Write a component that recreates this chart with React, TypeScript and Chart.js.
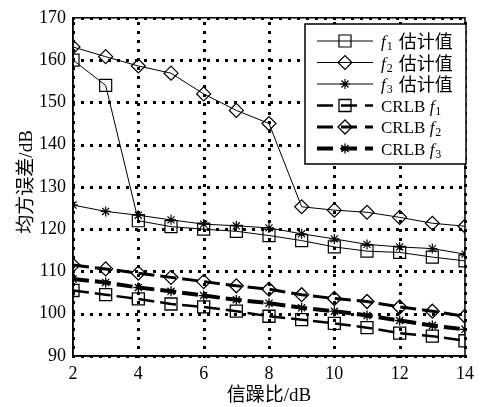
import { useEffect, useRef } from "react";
import { Chart, registerables } from "chart.js";
Chart.register(...registerables);

const snr = [2, 3, 4, 5, 6, 7, 8, 9, 10, 11, 12, 13, 14];
const f1Est = [160, 154, 122, 120.6, 120, 119.5, 118.5, 117.3, 115.8, 114.8, 114.5, 113.4, 112.5];
const f2Est = [163.1, 160.8, 158.6, 156.9, 152, 148.1, 145, 125.3, 124.5, 124, 122.8, 121.4, 120.7];
const f3Est = [125.7, 124.2, 123.3, 122.2, 121.2, 120.8, 120.3, 118.9, 117.7, 116.4, 115.8, 115.4, 114.1];
const crlbF1 = [105.5, 104.5, 103.5, 102.3, 101.6, 100.6, 99.4, 98.6, 97.7, 96.7, 95.4, 94.7, 93.6];
const crlbF2 = [111.5, 110.6, 109.6, 108.6, 107.6, 106.6, 105.8, 104.5, 103.6, 102.9, 101.6, 100.6, 99.4];
const crlbF3 = [108.2, 107.4, 106.2, 105.3, 104.3, 103.3, 102.5, 101.4, 100.6, 99.6, 98.4, 97.2, 96.3];
const yTicks = [90, 100, 110, 120, 130, 140, 150, 160, 170];
const xTicks = [2, 4, 6, 8, 10, 12, 14];
const xTitle = "信躁比/dB";
const yTitle = "均方误差/dB";
const legendIdx = ["1", "2", "3", "1", "2", "3"];
const legendPrefix = ["", "", "", "CRLB ", "CRLB ", "CRLB "];
const legendSuffix = ["估计值", "估计值", "估计值", "", "", ""];

const FONT = "'Liberation Serif', 'Times New Roman', 'Noto Sans CJK SC', serif";
const DASH = [16, 6];

type Style = { pointStyle: string; radius: number; width: number; dash: number[]; pw: number };
const styles: Style[] = [
  { pointStyle: "rect", radius: 8.5, width: 1, dash: [], pw: 1.2 },
  { pointStyle: "rectRot", radius: 7, width: 1, dash: [], pw: 1.2 },
  { pointStyle: "star", radius: 5, width: 1, dash: [], pw: 1.2 },
  { pointStyle: "rect", radius: 8.5, width: 2.5, dash: DASH, pw: 1.3 },
  { pointStyle: "rectRot", radius: 7, width: 3, dash: DASH, pw: 1.3 },
  { pointStyle: "star", radius: 5, width: 4, dash: DASH, pw: 1.3 },
];
const series = [f1Est, f2Est, f3Est, crlbF1, crlbF2, crlbF3];

function drawMarker(ctx: CanvasRenderingContext2D, s: Style, x: number, y: number) {
  ctx.save();
  ctx.setLineDash([]);
  ctx.lineWidth = s.pw;
  ctx.strokeStyle = "#000";
  ctx.beginPath();
  const r = s.radius;
  if (s.pointStyle === "rect") {
    const h = Math.SQRT1_2 * r;
    ctx.rect(x - h, y - h, 2 * h, 2 * h);
  } else if (s.pointStyle === "rectRot") {
    ctx.moveTo(x - r, y);
    ctx.lineTo(x, y - r);
    ctx.lineTo(x + r, y);
    ctx.lineTo(x, y + r);
    ctx.closePath();
  } else {
    ctx.moveTo(x - r, y); ctx.lineTo(x + r, y);
    ctx.moveTo(x, y - r); ctx.lineTo(x, y + r);
    const d = r * Math.SQRT1_2;
    ctx.moveTo(x - d, y - d); ctx.lineTo(x + d, y + d);
    ctx.moveTo(x - d, y + d); ctx.lineTo(x + d, y - d);
  }
  ctx.stroke();
  ctx.restore();
}

function drawGrid(chart: any) {
  const ctx: CanvasRenderingContext2D = chart.ctx;
  const a = chart.chartArea;
  const xs = chart.scales.x;
  const ys = chart.scales.y;
  ctx.save();
  ctx.fillStyle = "#000000";
  const step = 9;
  const top = Math.round(a.top), bottom = Math.round(a.bottom);
  const left = Math.round(a.left), right = Math.round(a.right);
  for (let i = 0; i < xTicks.length; i++) {
    const px = Math.round(xs.getPixelForValue(xTicks[i]));
    for (let y = bottom; y >= top; y -= step) ctx.fillRect(px - 1, y - 1, 3, 3);
  }
  for (let i = 0; i < yTicks.length; i++) {
    const py = Math.round(ys.getPixelForValue(yTicks[i]));
    for (let x = left; x <= right; x += step) ctx.fillRect(x - 1, py - 1, 3, 3);
  }
  ctx.restore();
}

const gridPlugin = {
  id: "dotgrid",
  afterDatasetsDraw(chart: any) {
    drawGrid(chart);
  },
};

const overlay = {
  id: "overlay",
  afterDraw(chart: any) {
    const ctx: CanvasRenderingContext2D = chart.ctx;
    const a = chart.chartArea;
    ctx.save();
    ctx.setLineDash([]);
    ctx.strokeStyle = "#000";
    ctx.lineWidth = 1.5;
    ctx.strokeRect(a.left, a.top, a.right - a.left, a.bottom - a.top);
    ctx.fillStyle = "#000";
    ctx.font = `19px ${FONT}`;
    ctx.textAlign = "center";
    ctx.textBaseline = "middle";
    ctx.fillText(xTitle, (a.left + a.right) / 2, 396);
    ctx.save();
    ctx.translate(27, (a.top + a.bottom) / 2 - 5);
    ctx.rotate(-Math.PI / 2);
    ctx.fillText(yTitle, 0, 0);
    ctx.restore();
    const bx = 305, by = 24, bw = 161, bh = 140;
    ctx.fillStyle = "#fff";
    ctx.fillRect(bx, by, bw, bh);
    ctx.lineWidth = 1.5;
    ctx.strokeStyle = "#000";
    ctx.strokeRect(bx, by, bw, bh);
    for (let i = 0; i < 6; i++) {
      const y = 41 + i * 21.5;
      const s = styles[i];
      ctx.save();
      ctx.lineWidth = s.width;
      ctx.setLineDash(s.dash.length ? [16, 8] : []);
      ctx.beginPath();
      ctx.moveTo(317, y);
      ctx.lineTo(373, y);
      ctx.stroke();
      ctx.restore();
      drawMarker(ctx, s, 345, y);
      ctx.fillStyle = "#000";
      ctx.textAlign = "left";
      ctx.textBaseline = "alphabetic";
      let x = 381;
      const base = y + 6;
      ctx.font = `17px ${FONT}`;
      if (legendPrefix[i]) {
        ctx.fillText(legendPrefix[i], x, base);
        x += ctx.measureText(legendPrefix[i]).width;
      }
      ctx.font = `italic 17px ${FONT}`;
      ctx.fillText("f", x, base);
      x += ctx.measureText("f").width + 1;
      ctx.font = `12px ${FONT}`;
      ctx.fillText(legendIdx[i], x, base + 3);
      x += ctx.measureText(legendIdx[i]).width;
      if (legendSuffix[i]) {
        ctx.font = `18px ${FONT}`;
        ctx.fillText(legendSuffix[i], x + 6, base + 1);
      }
    }
    ctx.restore();
  },
};

export default function App() {
  const ref = useRef<HTMLCanvasElement>(null);
  useEffect(() => {
    if (!ref.current) return;
    const datasets = series.map((d, i) => ({
      label: "s" + i,
      data: d.map((v, j) => ({ x: snr[j], y: v })),
      borderColor: "#000",
      backgroundColor: "rgba(0,0,0,0)",
      borderWidth: styles[i].width,
      borderDash: styles[i].dash,
      pointStyle: styles[i].pointStyle as any,
      pointRadius: styles[i].radius,
      pointBorderWidth: styles[i].pw,
      pointBorderColor: "#000",
      pointBackgroundColor: "rgba(0,0,0,0)",
      tension: 0,
      fill: false,
    }));
    const chart = new Chart(ref.current, {
      type: "line",
      data: { datasets },
      options: {
        animation: false,
        responsive: true,
        maintainAspectRatio: false,
        layout: { padding: { left: 0, right: 9, top: 16, bottom: 0 } },
        plugins: { legend: { display: false }, tooltip: { enabled: false } },
        scales: {
          x: {
            type: "linear",
            min: xTicks[0],
            max: xTicks[xTicks.length - 1],
            afterFit: (s: any) => { s.height = 51; },
            ticks: { stepSize: 2, color: "#000", font: { family: FONT, size: 18 }, padding: 7, maxRotation: 0 },
            grid: { display: false, drawTicks: false },
            border: { display: true, color: "#000", width: 1.5 },
          },
          y: {
            type: "linear",
            min: yTicks[0],
            max: yTicks[yTicks.length - 1],
            afterFit: (s: any) => { s.width = 73; },
            ticks: { stepSize: 10, color: "#000", font: { family: FONT, size: 18 }, padding: 7 },
            grid: { display: false, drawTicks: false },
            border: { display: true, color: "#000", width: 1.5 },
          },
        },
      },
      plugins: [gridPlugin, overlay],
    });
    return () => chart.destroy();
  }, []);
  return (
    <div style={{ position: "absolute", left: 0, top: 0, width: 481, height: 407, background: "#fff" }}>
      <canvas ref={ref} />
    </div>
  );
}
